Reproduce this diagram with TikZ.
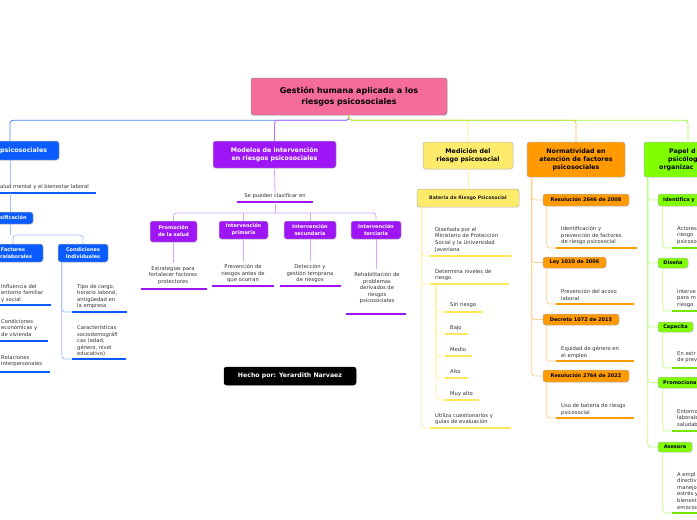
\documentclass[tikz,border=0pt]{standalone}
\usepackage{fontspec}
\setmainfont{DejaVu Sans}
\usetikzlibrary{calc}
\definecolor{cpink}{HTML}{F56B9B}
\definecolor{cblue}{HTML}{0A5CFF}
\definecolor{cblueT}{HTML}{4F84FF}
\definecolor{cbluel}{HTML}{A3BFFF}
\definecolor{cpur}{HTML}{9E16F5}
\definecolor{cpurT}{HTML}{BE70FF}
\definecolor{cpurl}{HTML}{D4A6FB}
\definecolor{cyel}{HTML}{FFEB6B}
\definecolor{cyelT}{HTML}{FFEE70}
\definecolor{cyell}{HTML}{FFF3A0}
\definecolor{cyelu}{HTML}{FFE65A}
\definecolor{cor}{HTML}{FF9A00}
\definecolor{corT}{HTML}{FFB84D}
\definecolor{corl}{HTML}{FFCF8A}
\definecolor{cgr}{HTML}{80FF00}
\definecolor{cgrT}{HTML}{99FF33}
\definecolor{cgrl}{HTML}{BFFF80}
\tikzset{
  bx/.style={rounded corners=2.5pt, draw=black!30, line width=0.5pt, inner sep=0pt, align=center},
  tbox/.style={bx, font=\fontsize{6.3}{8}\selectfont\bfseries},
  sbox/.style={bx, font=\fontsize{5}{7}\selectfont\bfseries},
  tfont/.style={inner sep=0pt, font=\fontsize{6.3}{8}\selectfont\bfseries},
  sfont/.style={inner sep=0pt, font=\fontsize{5}{7}\selectfont\bfseries},
  itm/.style={inner sep=0pt, align=left, anchor=north west, font=\fontsize{5.25}{6.6}\selectfont, text=black!80},
  itmc/.style={itm, align=center, anchor=north},
  ul/.style={line width=2.3pt},
  cn/.style={line width=0.8pt, rounded corners=3pt},
}
\begin{document}
\begin{tikzpicture}[x=1pt,y=-1pt]
\useasboundingbox (0,0) rectangle (697,520);
\clip (0,0) rectangle (697,520);
\fill[white] (0,0) rectangle (697,520);

% ---------- main
\node[bx, fill=cpink, draw=black!45, minimum width=196pt, minimum height=37pt,
  font=\fontsize{8}{10.5}\selectfont\bfseries] (main) at (349,96.5)
  {Gestión humana aplicada a los\\riesgos psicosociales};

% ---------- top-level boxes
\node[bx, fill=cblue, minimum width=98pt, minimum height=19pt] (psy) at (10,150.5) {};
\node[tfont, text=white, anchor=west] (psyt) at (0,150.5) {psicosociales};
\node[tbox, fill=cpur, text=white, minimum width=123pt, minimum height=27pt] (mod) at (274.5,154.5)
  {Modelos de intervención\\en riesgos psicosociales};
\node[tbox, fill=cyel, minimum width=90pt, minimum height=27pt] (med) at (468,155.5)
  {Medición del\\riesgo psicosocial};
\node[tbox, fill=cor, minimum width=98pt, minimum height=35pt] (nor) at (576,159.5)
  {Normatividad en\\atención de factores\\psicosociales};
\node[bx, fill=cgr, minimum width=88pt, minimum height=35pt] (pap) at (688,159.5) {};
\node[tfont, anchor=west] (pap1) at (669,152) {Papel d};
\node[tfont, anchor=west] (pap2) at (668,160) {psicólog};
\node[tfont, anchor=west] (pap3) at (659,168) {organizac};

% ---------- top connectors
\draw[cn, cblueT] (main.south) -- ++(0,5) -| (psy.north);
\draw[cn, cpurT] (main.south) -- ++(0,5) -| (mod.north);
\draw[cn, cyelT] (main.south) -- ++(0,5) -| (med.north);
\draw[cn, corT] (main.south) -- ++(0,5) -| (nor.north);
\draw[cn, cgrT] (main.south) -- ++(0,5) -| (pap.north);

% ---------- blue branch
\node[itm, anchor=west] (sal) at (0,187) {alud mental y el bienestar laboral};
\coordinate (salA) at (0,193); \coordinate (salB) at (96,193);
\draw[ul, cblue] (salA) -- (salB);
\draw[cn, cbluel] (psy.south) -- (psy.south |- sal.north);
\node[bx, fill=cblue, minimum width=64pt, minimum height=12pt] (clas) at (1,218) {};
\node[sfont, text=white, anchor=west] (clast) at (0,218) {sificación};
\draw[cn, cbluel] (psy.south |- salA) -- (psy.south |- clas.north);
\node[bx, fill=cblue, minimum width=60pt, minimum height=18pt] (fac) at (13,253) {};
\node[sfont, text=white] (fac1) at (13,250) {Factores};
\node[sfont, text=white, anchor=west] (fac2) at (0,257) {ralaborales};
\node[sbox, fill=cblue, text=white, minimum width=50pt, minimum height=18pt] (cond) at (83,253)
  {Condiciones\\Individuales};
\coordinate (cj) at (10,235);
\draw[cn, cbluel] (clas.south -| cj) -- (cj);
\draw[cn, cbluel] (fac.north) -- (fac.north |- cj) -| (cond.north);

\node[itm] (f1) at (1,284) {Influencia del\\entorno familiar\\y social};
\coordinate (f1A) at (0,305); \coordinate (f1B) at (51,305);
\node[itm] (f2) at (1,319) {Condiciones\\económicas y\\de vivienda};
\coordinate (f2A) at (0,341); \coordinate (f2B) at (48,341);
\node[itm] (f3) at (1,355) {Relaciones\\interpersonales};
\coordinate (f3A) at (0,372); \coordinate (f3B) at (50,372);
\foreach \u in {f1,f2,f3} \draw[ul, cblue] (\u A) -- (\u B);

\node[itm] (c1) at (77,284) {Tipo de cargo,\\horario laboral,\\antigüedad en\\la empresa};
\coordinate (c1A) at (72,312); \coordinate (c1B) at (127,312);
\node[itm] (c2) at (77,325) {Características\\sociodemográfi\\cas (edad,\\género, nivel\\educativo)};
\coordinate (c2A) at (72,359); \coordinate (c2B) at (126,359);
\coordinate (csp) at ([xshift=4pt]cond.south west);
\draw[cn, cbluel] (csp) |- (c1A);
\draw[cn, cbluel] (csp) |- (c2A);
\foreach \u in {c1,c2} \draw[ul, cblue] (\u A) -- (\u B);

% ---------- purple branch
\node[itmc] (sp) at (275,193) {Se pueden clasificar en};
\draw[cn, cpurl] (mod.south) -- (sp.north);
\coordinate (spA) at (237,202); \coordinate (spB) at (313,202);
\draw[ul, cpur] (spA) -- (spB);
\node[sbox, fill=cpur, text=white, minimum width=47pt, minimum height=21pt] (prom) at (173.5,231.5)
  {Promoción\\de la salud};
\node[sbox, fill=cpur, text=white, minimum width=49pt, minimum height=18pt] (ip) at (243.5,230)
  {Intervención\\primaria};
\node[sbox, fill=cpur, text=white, minimum width=52pt, minimum height=18pt] (is) at (310,230)
  {Intervención\\secundaria};
\node[sbox, fill=cpur, text=white, minimum width=50pt, minimum height=18pt] (it) at (376,230)
  {Intervención\\terciaria};
\coordinate (pj) at (275,213);
\draw[cn, cpurl] ($(spA)!.5!(spB)$) -- (pj);
\draw[cn, cpurl] (prom.north) |- (pj) -| (it.north);
\draw[cn, cpurl] (ip.north) -- (ip.north |- pj);
\draw[cn, cpurl] (is.north) -- (is.north |- pj);

\node[itmc] (pt) at (173,266) {Estrategias para\\fortalecer factores\\protectores};
\coordinate (ptA) at (141,289); \coordinate (ptB) at (207,289);
\node[itmc] (ipt) at (243,264) {Prevención de\\riesgos antes de\\que ocurran};
\coordinate (iptA) at (212,286); \coordinate (iptB) at (274,286);
\node[itmc] (ist) at (310,264) {Detección y\\gestión temprana\\de riesgos};
\coordinate (istA) at (280,286); \coordinate (istB) at (341,286);
\node[itmc] (itt) at (377,272) {Rehabilitación de\\problemas\\derivados de\\riesgos\\psicosociales};
\coordinate (ittA) at (346,314); \coordinate (ittB) at (406,314);
\draw[cn, cpurl, shorten >=3pt] (prom.south) -- (prom.south |- pt.north);
\draw[cn, cpurl, shorten >=3pt] (ip.south) -- (ip.south |- ipt.north);
\draw[cn, cpurl, shorten >=3pt] (is.south) -- (is.south |- ist.north);
\draw[cn, cpurl, shorten >=3pt] (it.south) -- (it.south |- itt.north);
\foreach \u in {pt,ipt,ist,itt} \draw[ul, cpur] (\u A) -- (\u B);

\node[bx, fill=black, draw=black, text=white, font=\fontsize{6.2}{8}\selectfont\bfseries,
  minimum width=132pt, minimum height=18pt] (hecho) at (290,376) {Hecho por: Yerardith Narvaez};

% ---------- yellow branch
\node[bx, fill=cyel, font=\fontsize{4.7}{6}\selectfont\bfseries, text=black!85,
  minimum width=102pt, minimum height=18pt] (bat) at (468,198) {Batería de Riesgo Psicosocial};
\draw[cn, cyell] (med.south) -- (bat.north);
\coordinate (ysp) at ([xshift=5pt]bat.south west);
\node[itm] (y1) at (435,227) {Diseñada por el\\Ministerio de Protección\\Social y la Universidad\\Javeriana};
\coordinate (y1A) at (430,256); \coordinate (y1B) at (512,256);
\node[itm] (y2) at (435,269) {Determina niveles de\\riesgo};
\coordinate (y2A) at (430,284); \coordinate (y2B) at (509,284);
\node[itm] (y3) at (435,413) {Utiliza cuestionarios y\\guías de evaluación};
\coordinate (y3A) at (430,428); \coordinate (y3B) at (511,428);
\foreach \u in {y1,y2,y3} \draw[cn, cyell] (ysp) |- (\u A);
\coordinate (ysp2) at ([xshift=6pt]y2A);
\node[itm] (l1) at (450,302) {Sin riesgo};
\coordinate (l1A) at (445,312); \coordinate (l1B) at (483,312);
\node[itm] (l2) at (450,325) {Bajo};
\coordinate (l2A) at (445,334); \coordinate (l2B) at (468,334);
\node[itm] (l3) at (450,347) {Medio};
\coordinate (l3A) at (445,356); \coordinate (l3B) at (472,356);
\node[itm] (l4) at (450,369) {Alto};
\coordinate (l4A) at (445,378); \coordinate (l4B) at (468,378);
\node[itm] (l5) at (450,391) {Muy alto};
\coordinate (l5A) at (445,400); \coordinate (l5B) at (479,400);
\foreach \u in {l1,l2,l3,l4,l5} \draw[cn, cyell] (ysp2) |- (\u A);
\foreach \u in {y1,y2,y3,l1,l2,l3,l4,l5} \draw[ul, cyelu] (\u A) -- (\u B);

% ---------- orange branch
\node[sbox, fill=cor, minimum width=86pt, minimum height=12pt] (r1) at (586,200) {Resolución 2646 de 2008};
\node[sbox, fill=cor, minimum width=63pt, minimum height=11pt] (r2) at (574.5,262.5) {Ley 1010 de 2006};
\node[sbox, fill=cor, minimum width=76pt, minimum height=11pt] (r3) at (581,319.5) {Decreto 1072 de 2015};
\node[sbox, fill=cor, minimum width=86pt, minimum height=12pt] (r4) at (586,376) {Resolución 2764 de 2022};
\coordinate (osp) at ([xshift=5pt]nor.south west);
\foreach \r in {r1,r2,r3,r4} \draw[cn, corl] (osp) |- (\r.west);
\node[itm] (o1) at (561,226) {Identificación y\\prevención de factores\\de riesgo psicosocial};
\coordinate (o1A) at (556,248); \coordinate (o1B) at (637,248);
\node[itm] (o2) at (561,289) {Prevención del acoso\\laboral};
\coordinate (o2A) at (556,304); \coordinate (o2B) at (634,304);
\node[itm] (o3) at (561,346) {Equidad de género en\\el empleo};
\coordinate (o3A) at (556,361); \coordinate (o3B) at (634,361);
\node[itm] (o4) at (561,403) {Uso de batería de riesgo\\psicosocial};
\coordinate (o4A) at (556,418); \coordinate (o4B) at (634,418);
\draw[cn, corl] ([xshift=4pt]r1.south west) |- (o1A);
\draw[cn, corl] ([xshift=4pt]r2.south west) |- (o2A);
\draw[cn, corl] ([xshift=4pt]r3.south west) |- (o3A);
\draw[cn, corl] ([xshift=4pt]r4.south west) |- (o4A);
\foreach \u in {o1,o2,o3,o4} \draw[ul, cor] (\u A) -- (\u B);

% ---------- green branch
\node[bx, fill=cgr, minimum width=100pt, minimum height=12pt] (g1) at (708,200) {};
\node[sfont, anchor=west] (g1t) at (663,200) {Identifica y};
\node[sbox, fill=cgr, minimum width=30pt, minimum height=10pt] (g2) at (673,263) {Diseña};
\node[sbox, fill=cgr, minimum width=35pt, minimum height=10pt] (g3) at (675.5,327) {Capacita};
\node[bx, fill=cgr, minimum width=100pt, minimum height=11pt] (g4) at (708,382.5) {};
\node[sfont, anchor=west] (g4t) at (663,382.5) {Promociona};
\node[sbox, fill=cgr, minimum width=34pt, minimum height=10pt] (g5) at (675,447) {Asesora};
\coordinate (gsp) at ([xshift=4pt]pap.south west);
\foreach \g in {g1,g2,g3,g4,g5} \draw[cn, cgrl] (gsp) |- (\g.west);
\node[itm] (gi1) at (677,226) {Actores\\riesgo\\psicoso};
\coordinate (gi1A) at (672,248); \coordinate (gi1B) at (702,248);
\node[itm] (gi2) at (677,289) {Interve\\para m\\riesgo};
\coordinate (gi2A) at (672,311); \coordinate (gi2B) at (702,311);
\node[itm] (gi3) at (677,351) {En estr\\de prev};
\coordinate (gi3A) at (672,368); \coordinate (gi3B) at (702,368);
\node[itm] (gi4) at (677,409) {Entorno\\laborale\\saludab};
\coordinate (gi4A) at (672,431); \coordinate (gi4B) at (702,431);
\node[itm] (gi5) at (677,472) {A empl\\directiv\\manejo\\estrés y\\bienest\\emocion};
\coordinate (gi5A) at (672,513); \coordinate (gi5B) at (702,513);
\draw[cn, cgrl] ([xshift=5pt]g1.south west) |- (gi1A);
\draw[cn, cgrl] ([xshift=5pt]g2.south west) |- (gi2A);
\draw[cn, cgrl] ([xshift=5pt]g3.south west) |- (gi3A);
\draw[cn, cgrl] ([xshift=5pt]g4.south west) |- (gi4A);
\draw[cn, cgrl] ([xshift=5pt]g5.south west) |- (gi5A);
\foreach \u in {gi1,gi2,gi3,gi4,gi5} \draw[ul, cgr!90!black] (\u A) -- (\u B);
\end{tikzpicture}
\end{document}
